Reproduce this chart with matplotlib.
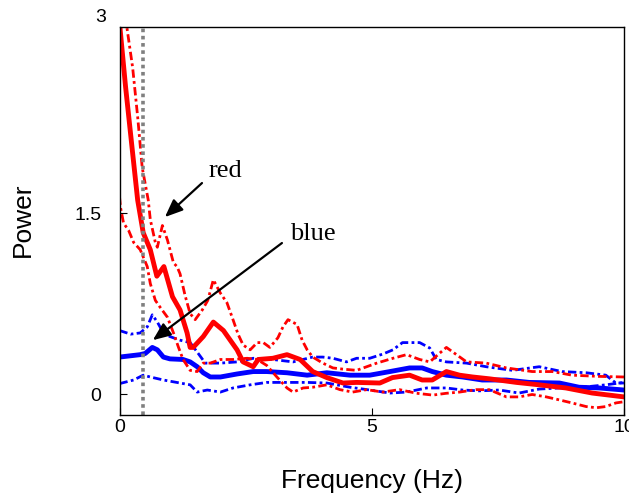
import matplotlib
matplotlib.use("Agg")
import matplotlib.pyplot as plt

plt.rcParams['font.family'] = ['Liberation Sans', 'DejaVu Sans']

# Mean power and bounds for the red condition
red_mean_f = [0, 0.12, 0.26, 0.36, 0.47, 0.61, 0.74, 0.88, 1.05, 1.2, 1.34, 1.40, 1.46, 1.66,
              1.86, 2.06, 2.33, 2.45, 2.65, 2.75, 3.04, 3.32, 3.58, 3.83, 4.11, 4.43, 4.70,
              5.16, 5.41, 5.75, 6.0, 6.2, 6.48, 6.74, 7.0, 7.33, 7.87, 8.32, 8.85, 9.37, 10]
red_mean_p = [3.08, 2.55, 2.0, 1.61, 1.34, 1.20, 0.98, 1.06, 0.81, 0.70, 0.51, 0.39, 0.39, 0.48,
              0.60, 0.53, 0.37, 0.27, 0.23, 0.29, 0.30, 0.33, 0.29, 0.19, 0.14, 0.095, 0.10,
              0.095, 0.14, 0.16, 0.12, 0.12, 0.19, 0.16, 0.145, 0.13, 0.10, 0.08, 0.054, 0.012, -0.02]

red_hi_f = [0, 0.15, 0.26, 0.36, 0.45, 0.57, 0.61, 0.71, 0.75, 0.85, 0.95, 1.07, 1.14, 1.2,
            1.3, 1.4, 1.5, 1.64, 1.75, 1.86, 2.0, 2.13, 2.25, 2.35, 2.45, 2.59, 2.73, 2.85,
            2.98, 3.14, 3.24, 3.34, 3.52, 3.62, 3.72, 3.83, 4.03, 4.23, 4.43, 4.70, 5.10,
            5.42, 5.69, 5.95, 6.15, 6.34, 6.48, 6.68, 6.88, 7.27, 7.67, 8.18, 8.58, 8.97, 9.5, 10]
red_hi_p = [3.5, 3.03, 2.71, 2.30, 1.88, 1.61, 1.45, 1.26, 1.22, 1.40, 1.28, 1.09, 1.06, 1.0,
            0.82, 0.67, 0.62, 0.70, 0.78, 0.95, 0.84, 0.76, 0.62, 0.50, 0.41, 0.37, 0.43, 0.43,
            0.39, 0.47, 0.56, 0.62, 0.58, 0.45, 0.37, 0.31, 0.26, 0.22, 0.21, 0.20, 0.26,
            0.30, 0.33, 0.29, 0.27, 0.34, 0.39, 0.33, 0.27, 0.26, 0.22, 0.19, 0.19, 0.16, 0.15, 0.145]

red_lo_f = [0, 0.02, 0.08, 0.18, 0.28, 0.41, 0.55, 0.61, 0.71, 0.81, 0.95, 1.07, 1.17, 1.26,
            1.40, 1.54, 1.66, 1.80, 2.0, 2.25, 2.53, 2.73, 2.92, 3.12, 3.32, 3.44, 3.64, 3.83,
            4.11, 4.37, 4.62, 4.90, 5.22, 5.55, 5.89, 6.21, 6.48, 6.74, 7.07, 7.33, 7.67, 7.92,
            8.18, 8.46, 8.72, 8.97, 9.25, 9.45, 9.64, 9.84, 10]
red_lo_p = [1.64, 1.55, 1.42, 1.36, 1.26, 1.20, 1.06, 0.92, 0.78, 0.72, 0.64, 0.51, 0.39, 0.29,
            0.20, 0.19, 0.26, 0.26, 0.29, 0.29, 0.30, 0.29, 0.24, 0.145, 0.054, 0.02, 0.054, 0.06,
            0.08, 0.04, 0.02, 0.04, 0.02, 0.04, 0.01, -0.005, 0.01, 0.02, 0.04, 0.04, -0.02, -0.02,
            0.0, -0.02, -0.045, -0.07, -0.10, -0.11, -0.10, -0.07, -0.06]

# Mean power and bounds for the blue condition
blue_mean_f = [0, 0.41, 0.51, 0.65, 0.75, 0.87, 1.0, 1.26, 1.40, 1.54, 1.66, 1.80, 2.0, 2.33,
               2.65, 2.92, 3.32, 3.72, 4.11, 4.57, 4.96, 5.36, 5.75, 6.0, 6.2, 6.48, 6.80,
               7.19, 7.67, 8.12, 8.72, 9.11, 9.51, 10]
blue_mean_p = [0.31, 0.33, 0.34, 0.39, 0.37, 0.31, 0.295, 0.29, 0.27, 0.23, 0.18, 0.145, 0.145, 0.17,
               0.19, 0.19, 0.18, 0.16, 0.18, 0.16, 0.16, 0.19, 0.22, 0.22, 0.19, 0.16, 0.145,
               0.12, 0.12, 0.10, 0.095, 0.06, 0.054, 0.037]

blue_hi_f = [0, 0.22, 0.41, 0.55, 0.65, 0.75, 0.87, 1.0, 1.2, 1.40, 1.56, 1.70, 2.0, 2.33, 2.65,
             3.04, 3.44, 3.83, 4.03, 4.23, 4.5, 4.70, 4.96, 5.22, 5.42, 5.61, 5.75, 5.95, 6.15,
             6.28, 6.48, 6.88, 7.27, 7.79, 8.32, 8.77, 9.25, 9.64, 9.84, 10]
blue_hi_p = [0.53, 0.50, 0.51, 0.56, 0.66, 0.60, 0.51, 0.48, 0.45, 0.43, 0.34, 0.26, 0.26, 0.27, 0.30,
             0.29, 0.27, 0.31, 0.31, 0.30, 0.27, 0.30, 0.30, 0.335, 0.37, 0.43, 0.43, 0.43, 0.385,
             0.29, 0.27, 0.26, 0.23, 0.20, 0.23, 0.19, 0.18, 0.16, 0.095, 0.095]

blue_lo_f = [0, 0.28, 0.47, 0.61, 0.87, 1.2, 1.40, 1.54, 1.74, 2.0, 2.25, 2.59, 2.92, 3.32, 3.72,
             4.11, 4.57, 4.96, 5.36, 5.69, 6.09, 6.48, 6.80, 7.13, 7.53, 7.92, 8.32, 8.72, 9.17,
             9.64, 10]
blue_lo_p = [0.09, 0.12, 0.16, 0.145, 0.12, 0.095, 0.08, 0.02, 0.037, 0.02, 0.054, 0.08, 0.10, 0.10,
             0.10, 0.095, 0.06, 0.037, 0.012, 0.02, 0.054, 0.054, 0.037, 0.03, 0.037, 0.012, 0.045,
             0.054, 0.06, 0.08, 0.10]

cutoff_freq = 0.47
x_ticks = [0, 5, 10]
y_ticks = [0, 1.5]
y_top_label = '3'

fig = plt.figure(figsize=(6.29, 4.96), dpi=100)
ax = fig.add_axes([0.190, 0.1633, 0.802, 0.7823])

dash = (0, (3, 1.2, 1, 1.2))

ax.plot(blue_hi_f, blue_hi_p, color='#0000ff', lw=2, ls=dash)
ax.plot(blue_lo_f, blue_lo_p, color='#0000ff', lw=2, ls=dash)
ax.plot(blue_mean_f, blue_mean_p, color='#0000ff', lw=3.5, solid_joinstyle='round')

ax.plot(red_hi_f, red_hi_p, color='#ff0000', lw=2, ls=dash)
ax.plot(red_lo_f, red_lo_p, color='#ff0000', lw=2, ls=dash)
ax.plot(red_mean_f, red_mean_p, color='#ff0000', lw=3.5, solid_joinstyle='round')

ax.axvline(cutoff_freq, color='#808080', lw=2.6, ls=(0, (1, 1)))

arrow = dict(arrowstyle='-|>,head_length=0.6,head_width=0.25', color='black',
             lw=1.6, mutation_scale=18, shrinkA=0, shrinkB=0)
ax.annotate('', xy=(0.90, 1.47), xytext=(1.635, 1.752), arrowprops=arrow)
ax.annotate('', xy=(0.66, 0.45), xytext=(3.22, 1.255), arrowprops=arrow)
ax.text(1.774, 1.80, 'red', family='Liberation Serif', fontsize=19, ha='left', va='baseline')
ax.text(3.38, 1.28, 'blue', family='Liberation Serif', fontsize=19, ha='left', va='baseline')

ax.set_xlim(0, 10)
ax.set_ylim(-0.17, 3.045)
ax.set_xticks(x_ticks)
ax.set_xticklabels([str(t) for t in x_ticks])
ax.set_yticks(y_ticks)
ax.set_yticklabels(['0', '1.5'])
ax.tick_params(axis='x', direction='in', length=5, pad=3, labelsize=14)
ax.tick_params(axis='y', direction='in', length=5, pad=13, labelsize=14)
ax.text(-0.27, 3.136, y_top_label, fontsize=14, ha='right', va='center_baseline', clip_on=False)

for s in ax.spines.values():
    s.set_linewidth(1)

fig.text(372 / 629, 1 - 481 / 496, 'Frequency (Hz)', fontsize=19, ha='center', va='center')
fig.text(23 / 629, 1 - 220 / 496, 'Power', fontsize=19, rotation=90, ha='center', va='center')

fig.savefig('out.png', dpi=100)
